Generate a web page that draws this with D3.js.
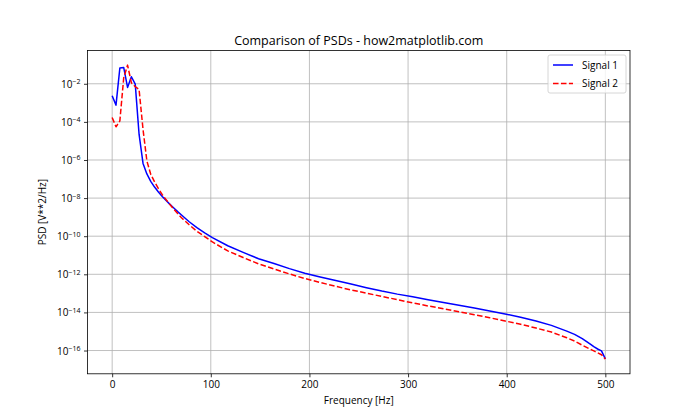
<!DOCTYPE html>
<html>
<head>
<meta charset="utf-8">
<script src="https://cdn.jsdelivr.net/npm/d3@7"></script>
<style>
  body { margin: 0; background: #fff; }
  svg { display: block; }
  text { font-family: "Open Sans", "Noto Sans", sans-serif; fill: #000; }
</style>
</head>
<body>
<svg id="chart" width="700" height="420"></svg>
<script>
// ---- data ----
const frequencies = [0, 3.9, 7.8, 11.7, 15.6, 19.5, 23.4, 27.3, 31.3, 35.2, 39.1, 43.0, 46.9, 50.8, 54.7,
  58.6, 62.5, 66.4, 70.3, 78.1, 85.9, 93.8, 101.6, 117.2, 132.8, 148.4, 164.1, 179.7, 195.3,
  210.9, 226.6, 242.2, 257.8, 273.4, 289.1, 304.7, 320.3, 335.9, 351.6, 367.2, 382.8, 398.4,
  414.1, 429.7, 445.3, 460.9, 468.8, 476.6, 484.4, 488.3, 492.2, 496.1, 500];
// PSD values stored as base-10 exponents (PSD = 10^value)
const signal1Log10 = [-2.63, -3.12, -1.17, -1.14, -2.19, -1.63, -2.02, -4.66, -6.18, -6.73, -7.12, -7.42, -7.68, -7.92, -8.13,
  -8.33, -8.52, -8.71, -8.89, -9.24, -9.55, -9.82, -10.07, -10.50, -10.85, -11.18, -11.43, -11.70, -11.94,
  -12.14, -12.33, -12.51, -12.70, -12.88, -13.04, -13.18, -13.33, -13.48, -13.62, -13.77, -13.92, -14.08,
  -14.25, -14.45, -14.68, -14.98, -15.15, -15.38, -15.65, -15.80, -15.92, -16.02, -16.44];
const signal2Log10 = [-3.77, -4.26, -3.95, -1.70, -1.02, -1.95, -2.15, -2.30, -4.40, -6.05, -6.75, -7.15, -7.50, -7.82, -8.08,
  -8.34, -8.58, -8.81, -9.03, -9.40, -9.74, -10.02, -10.30, -10.77, -11.12, -11.45, -11.72, -11.98, -12.22,
  -12.43, -12.63, -12.82, -12.99, -13.16, -13.33, -13.50, -13.66, -13.81, -13.96, -14.12, -14.28, -14.45,
  -14.62, -14.82, -15.03, -15.33, -15.50, -15.72, -15.92, -16.02, -16.12, -16.22, -16.45];
const xTicks = [0, 100, 200, 300, 400, 500];
const yTickExponents = [-2, -4, -6, -8, -10, -12, -14, -16];
const seriesNames = ["Signal 1", "Signal 2"];
const seriesColors = ["#0000ff", "#ff0000"];
const titleText = "Comparison of PSDs - how2matplotlib.com";
const xLabel = "Frequency [Hz]";
const yLabel = "PSD [V**2/Hz]";

// ---- layout ----
const W = 700, H = 420;
const L = 87.5, R = 630, T = 50.4, B = 373.8;
const svg = d3.select("#chart");

const series = [signal1Log10, signal2Log10].map((arr, i) => ({
  name: seriesNames[i], color: seriesColors[i],
  values: frequencies.map((f, j) => ({ f: f, p: Math.pow(10, arr[j]) }))
}));

// matplotlib-like 5% margins
const fMin = d3.min(frequencies), fMax = d3.max(frequencies);
const fPad = (fMax - fMin) * 0.05;
const x = d3.scaleLinear().domain([fMin - fPad, fMax + fPad]).range([L, R]);
const allLog = signal1Log10.concat(signal2Log10);
const lMin = d3.min(allLog), lMax = d3.max(allLog);
const lPad = (lMax - lMin) * 0.05;
const y = d3.scaleLog().domain([Math.pow(10, lMin - lPad), Math.pow(10, lMax + lPad)]).range([B, T]);

// grid
const grid = svg.append("g");
grid.selectAll("line.vx").data(xTicks).enter().append("line")
  .attr("x1", d => x(d)).attr("x2", d => x(d)).attr("y1", T).attr("y2", B)
  .attr("stroke", "#b0b0b0").attr("stroke-width", 0.8);
grid.selectAll("line.hy").data(yTickExponents).enter().append("line")
  .attr("x1", L).attr("x2", R).attr("y1", d => y(Math.pow(10, d))).attr("y2", d => y(Math.pow(10, d)))
  .attr("stroke", "#b0b0b0").attr("stroke-width", 0.8);

// lines
svg.append("clipPath").attr("id", "clip").append("rect")
  .attr("x", L).attr("y", T).attr("width", R - L).attr("height", B - T);
const line = d3.line().x(d => x(d.f)).y(d => y(d.p));
svg.append("g").attr("clip-path", "url(#clip)").selectAll("path").data(series).enter().append("path")
  .attr("d", d => line(d.values))
  .attr("fill", "none")
  .attr("stroke", d => d.color)
  .attr("stroke-width", 1.5)
  .attr("stroke-linejoin", "round")
  .attr("stroke-dasharray", (d, i) => i === 1 ? "5.55,2.4" : null);

// axes
const xAxis = d3.axisBottom(x).tickValues(xTicks).tickSize(3.5).tickPadding(3.5).tickFormat(d3.format("d"));
const gx = svg.append("g").attr("transform", `translate(0,${B})`).call(xAxis);
gx.select(".domain").remove();
gx.selectAll("line").attr("stroke", "#000").attr("stroke-width", 0.8);
gx.selectAll("text").attr("font-size", 10).attr("font-family", null);

const yAxis = d3.axisLeft(y).tickValues(yTickExponents.map(e => Math.pow(10, e))).tickSize(3.5).tickPadding(3.5).tickFormat(() => "");
const gy = svg.append("g").attr("transform", `translate(${L},0)`).call(yAxis);
gy.select(".domain").remove();
gy.selectAll("line").attr("stroke", "#000").attr("stroke-width", 0.8);
gy.selectAll(".tick text").each(function(d) {
  const t = d3.select(this).attr("font-size", 10).attr("font-family", null).attr("dy", "0.35em");
  const e = Math.round(Math.log10(d));
  t.text(null);
  t.append("tspan").text("10");
  t.append("tspan").attr("dy", "-0.5em").attr("font-size", 7).text("\u2212" + Math.abs(e));
});

// frame
svg.append("rect").attr("x", L).attr("y", T).attr("width", R - L).attr("height", B - T)
  .attr("fill", "none").attr("stroke", "#000").attr("stroke-width", 0.8);

// labels
svg.append("text").attr("x", (L + R) / 2).attr("y", 45).attr("text-anchor", "middle")
  .attr("font-size", 12.5).text(titleText);
svg.append("text").attr("x", (L + R) / 2).attr("y", 404).attr("text-anchor", "middle")
  .attr("font-size", 10).text(xLabel);
svg.append("text").attr("transform", `translate(46,${(T + B) / 2}) rotate(-90)`).attr("text-anchor", "middle")
  .attr("font-size", 10).text(yLabel);

// legend
const lg = svg.append("g").attr("transform", "translate(548,55)");
lg.append("rect").attr("x", 0).attr("y", 0).attr("width", 78).attr("height", 38).attr("rx", 2)
  .attr("fill", "#fff").attr("fill-opacity", 0.8).attr("stroke", "#cccccc").attr("stroke-width", 0.8);
series.forEach((s, i) => {
  const yy = 10 + i * 18.5;
  lg.append("line").attr("x1", 5).attr("x2", 25).attr("y1", yy).attr("y2", yy)
    .attr("stroke", s.color).attr("stroke-width", 1.5)
    .attr("stroke-dasharray", i === 1 ? "5.55,2.4" : null);
  lg.append("text").attr("x", 34).attr("y", yy).attr("dy", "0.35em").attr("font-size", 10).text(s.name);
});
</script>
</body>
</html>
